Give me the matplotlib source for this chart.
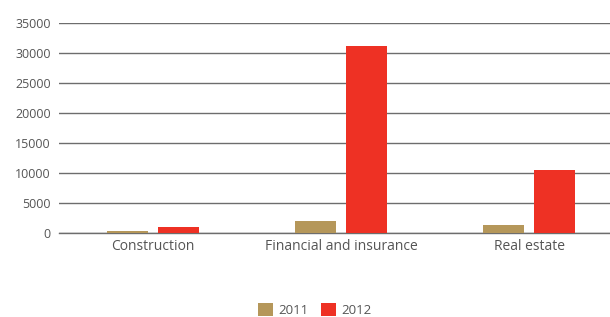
import matplotlib
matplotlib.use("Agg")
import matplotlib.pyplot as plt
import numpy as np

categories = ["Construction", "Financial and insurance", "Real estate"]
years = ["2011", "2012"]
values_2011 = [300, 2000, 1400]
values_2012 = [1000, 31100, 10500]
yticks = [0, 5000, 10000, 15000, 20000, 25000, 30000, 35000]

plt.rcParams['font.family'] = ['Open Sans', 'DejaVu Sans']

fig = plt.figure(figsize=(6.10, 3.17), dpi=100)
ax = fig.add_axes([59/610, 1 - 233/317, 1 - 59/610, 210/317])

x = np.arange(len(categories))
w = 0.218
off = 0.136
ax.bar(x - off, values_2011, width=w, color="#b5975a", label=years[0], zorder=3)
ax.bar(x + off, values_2012, width=w, color="#ee3124", label=years[1], zorder=3)

ax.set_xlim(-0.5, 2.43)
ax.set_ylim(0, 35000)
ax.set_yticks(yticks)
ax.set_yticklabels([str(t) for t in yticks], fontsize=9, color="#555555")
ax.set_xticks(x)
ax.set_xticklabels(categories, fontsize=10, color="#555555")
ax.tick_params(axis='both', length=0)
ax.tick_params(axis='y', pad=6)
ax.tick_params(axis='x', pad=4)
ax.grid(axis='y', color="#6d6d6d", linewidth=1.0, zorder=0)
ax.axhline(0, color="#6d6d6d", linewidth=1.0, zorder=2, clip_on=False)
for s in ax.spines.values():
    s.set_visible(False)

leg = fig.legend(loc="center", bbox_to_anchor=(0.516, 1 - 310/317), ncol=2, frameon=False,
                 fontsize=9.5, handlelength=1.1, handleheight=1.1, columnspacing=1.0,
                 handletextpad=0.4)
for t in leg.get_texts():
    t.set_color("#555555")

fig.savefig("out.png", dpi=100)
